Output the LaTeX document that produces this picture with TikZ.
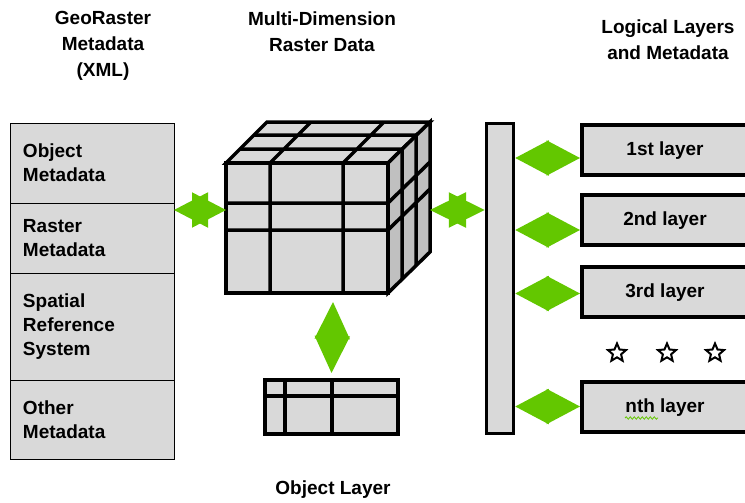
\documentclass[tikz,border=0pt]{standalone}
\usepackage{fontspec}
\setmainfont{Liberation Sans}
\usetikzlibrary{positioning,arrows.meta,shapes.geometric,decorations.pathmorphing}
\definecolor{boxgray}{RGB}{217,217,217}
\definecolor{sidegray}{RGB}{192,192,192}
\definecolor{arrowgreen}{RGB}{99,199,0}

\begin{document}
\begin{tikzpicture}[x = 1pt, y = -1pt,
    every node/.style = { font = \fontsize{19}{24}\selectfont\bfseries },
    title/.style = { align = center, font = \fontsize{19}{26}\selectfont\bfseries },
    meta/.style = { draw, fill = boxgray, line width = 1pt, text width = 138pt, inner xsep = 13pt, align = left, outer sep = 0pt },
    layer/.style = { draw, fill = boxgray, line width = 4pt, minimum width = 166pt, minimum height = 50pt, text depth = 2pt },
    heavy/.style = { line width = 3.5pt, line join = miter },
    link/.style = { draw = arrowgreen, line width = 2pt, {Triangle[length = #1, width = 35pt]}-{Triangle[length = #1, width = 35pt]} }]
  \useasboundingbox (0,0) rectangle (745,503);
  \clip (0,0) rectangle (745,503);

    \node [title] (georaster) at (103,46) { GeoRaster \\ Metadata \\ (XML) };
    \node [title] (multidim) at (322,32) { Multi-Dimension \\ Raster Data };
    \node [title] (logical) at (668,40) { Logical Layers \\ and Metadata };

    \node [meta, minimum height = 80pt, anchor = north west] (objmeta) at (10,123) { Object \\ Metadata };
    \node [meta, minimum height = 70pt, below = 0pt of objmeta] (rastmeta) { Raster \\ Metadata };
    \node [meta, minimum height = 107pt, below = 0pt of rastmeta] (srs) { Spatial \\ Reference \\ System };
    \node [meta, minimum height = 79pt, below = 0pt of srs] (othermeta) { Other \\ Metadata };

    \filldraw [heavy, fill = boxgray] (226,163) -- (267,122) -- (430,122) -- (388,163) -- cycle;
    \filldraw [heavy, fill = sidegray] (388,163) -- (430,122) -- (430,252) -- (388,293) -- cycle;
    \filldraw [heavy, fill = boxgray] (226,163) rectangle (388,293);
    \draw [heavy] (270,163) -- (270,293) (343,163) -- (343,293)
                  (226,203) -- (388,203) (226,230) -- (388,230)
                  (240,149) -- (402,149) (254,135) -- (416,135)
                  (270,163) -- (311,122) (343,163) -- (384,122)
                  (402,149) -- (402,279) (416,135) -- (416,265)
                  (388,203) -- (430,162) (388,230) -- (430,189);
    \coordinate (cubeleft) at (226,210);
    \coordinate (cuberight) at (430,210);
    \coordinate (cubebottom) at (333,302);

    \node [draw, fill = boxgray, line width = 3.5pt, minimum width = 27pt, minimum height = 310pt] (bar) at (500,278.5) {};

    \node [layer] (first) at (665,150) { 1st layer };
    \node [layer] (second) at (665,220) { 2nd layer };
    \node [layer] (third) at (665,291.5) { 3rd layer };
    \node [layer] (nth) at (665,406.5) { nth layer };
    \draw [arrowgreen, line width = 0.8pt, decorate, decoration = { snake, amplitude = 1.2pt, segment length = 4pt }] (625,418) -- (658,418);

    \foreach \x in {617,667,715}
      \node [star, star points = 5, star point ratio = 2.2, draw, fill = white, line width = 2pt, minimum size = 19pt, inner sep = 0pt] (dot\x) at (\x,353) {};

    \node [draw, fill = boxgray, line width = 4pt, minimum width = 133pt, minimum height = 54pt] (objlayer) at (331.5,407) {};
    \draw [line width = 4pt] (285,378) -- (285,436) (332,378) -- (332,436) (263,396) -- (400,396);
    \node (objlabel) at (333,490) { Object Layer };

    \coordinate (a1) at ([yshift = -8pt]first.west);
    \coordinate (a2) at ([yshift = -10pt]second.west);
    \coordinate (a3) at ([yshift = -2pt]third.west);
    \coordinate (a4) at (nth.west);
    \draw [link = 34pt] (rastmeta.east |- cubeleft) -- (cubeleft);
    \draw [link = 36pt] (cuberight) -- (bar.west |- cuberight);
    \draw [link = 37pt] (cubebottom) -- ([yshift = 5pt]objlayer.north);
    \foreach \a in {a1,a2,a3,a4}
      \draw [link = 33.5pt] (bar.east |- \a) -- (\a);

\end{tikzpicture}
\end{document}
